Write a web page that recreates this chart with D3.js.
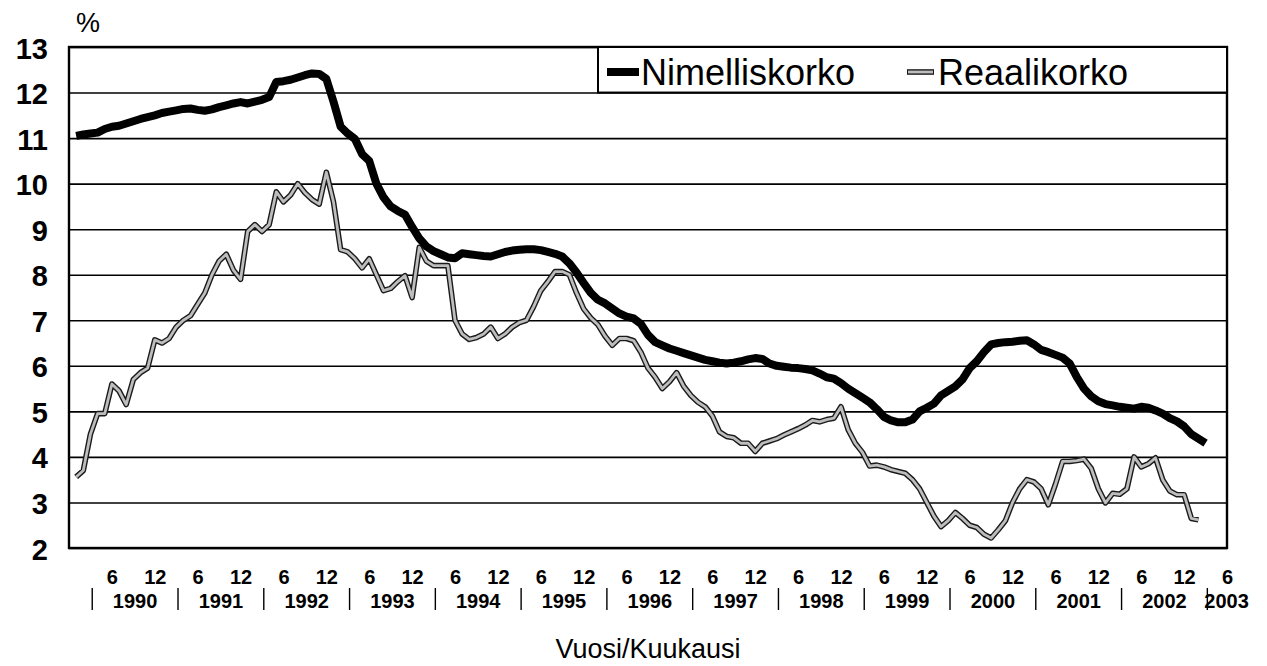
<!DOCTYPE html>
<html>
<head>
<meta charset="utf-8">
<script src="https://cdn.jsdelivr.net/npm/d3@7"></script>
<style>
  body { margin: 0; background: #fff; }
  text { font-family: "Liberation Sans", Arial, sans-serif; fill: #000; }
</style>
</head>
<body>
<div id="chart"></div>
<script>
// Korot 1990-2003, kuukausittain (tammikuu 1990 alkaen)
const startYear = 1990;

const nimelliskorko = [
  11.05, 11.08, 11.10, 11.12, 11.20, 11.25, 11.27, 11.32, 11.37, 11.42, 11.46, 11.50,
  11.55, 11.58, 11.61, 11.64, 11.65, 11.62, 11.60, 11.63, 11.68, 11.72, 11.76, 11.79,
  11.76, 11.80, 11.84, 11.90, 12.23, 12.25, 12.28, 12.33, 12.38, 12.42, 12.41, 12.30,
  11.80, 11.25, 11.10, 10.98, 10.65, 10.50, 10.00, 9.70, 9.50, 9.40, 9.32, 9.05,
  8.80, 8.62, 8.52, 8.45, 8.38, 8.36, 8.47, 8.45, 8.43, 8.41, 8.40, 8.45,
  8.50, 8.53, 8.55, 8.56, 8.56, 8.54, 8.50, 8.46, 8.40, 8.25, 8.05, 7.82,
  7.60, 7.45, 7.37, 7.26, 7.15, 7.08, 7.04, 6.92, 6.68, 6.52, 6.45, 6.38,
  6.33, 6.28, 6.23, 6.18, 6.13, 6.10, 6.07, 6.05, 6.07, 6.10, 6.14, 6.17,
  6.15, 6.05, 6.00, 5.98, 5.96, 5.95, 5.93, 5.90, 5.83, 5.75, 5.72, 5.62,
  5.50, 5.40, 5.30, 5.20, 5.05, 4.88, 4.80, 4.76, 4.76, 4.82, 5.00, 5.08,
  5.17, 5.35, 5.45, 5.55, 5.70, 5.95, 6.10, 6.30, 6.47, 6.50, 6.52, 6.53,
  6.55, 6.56, 6.47, 6.35, 6.30, 6.24, 6.18, 6.05, 5.75, 5.50, 5.33, 5.22,
  5.16, 5.13, 5.10, 5.08, 5.06, 5.10, 5.08, 5.02, 4.95, 4.85, 4.78, 4.67,
  4.50, 4.40, 4.30
];

const reaalikorko = [
  3.56, 3.70, 4.50, 4.95, 4.95, 5.60, 5.45, 5.15, 5.70, 5.85, 5.95, 6.57,
  6.50, 6.60, 6.85, 7.00, 7.10, 7.35, 7.60, 8.00, 8.30, 8.45, 8.10, 7.90,
  8.95, 9.10, 8.95, 9.10, 9.82, 9.60, 9.75, 10.00, 9.80, 9.65, 9.55, 10.25,
  9.60, 8.55, 8.50, 8.35, 8.15, 8.35, 8.00, 7.65, 7.70, 7.85, 7.98, 7.50,
  8.60, 8.30, 8.20, 8.20, 8.20, 7.00, 6.70, 6.58, 6.62, 6.70, 6.85, 6.60,
  6.70, 6.85, 6.95, 7.00, 7.30, 7.65, 7.85, 8.07, 8.07, 8.00, 7.60, 7.25,
  7.05, 6.90, 6.65, 6.45, 6.60, 6.60, 6.55, 6.30, 5.95, 5.75, 5.50, 5.65,
  5.85, 5.55, 5.35, 5.20, 5.10, 4.90, 4.55, 4.45, 4.42, 4.30, 4.30, 4.12,
  4.30, 4.35, 4.40, 4.48, 4.55, 4.62, 4.70, 4.80, 4.77, 4.82, 4.85, 5.10,
  4.60, 4.30, 4.10, 3.80, 3.82, 3.78, 3.72, 3.68, 3.64, 3.50, 3.30, 3.00,
  2.70, 2.47, 2.60, 2.78, 2.65, 2.50, 2.45, 2.30, 2.22, 2.40, 2.60, 3.00,
  3.30, 3.50, 3.45, 3.30, 2.95, 3.40, 3.90, 3.90, 3.92, 3.95, 3.75, 3.30,
  2.99, 3.20, 3.18, 3.30, 4.00, 3.78, 3.85, 3.98, 3.50, 3.25, 3.17, 3.17,
  2.65, 2.62
];

const yTicks = [2, 3, 4, 5, 6, 7, 8, 9, 10, 11, 12, 13];
const monthLabels = [6, 12];
const years = [1990, 1991, 1992, 1993, 1994, 1995, 1996, 1997, 1998, 1999, 2000, 2001, 2002, 2003];

const W = 1267, H = 666;
const margin = {top: 47, right: 40, bottom: 118, left: 69};
const width = W - margin.left - margin.right,
      height = H - margin.top - margin.bottom;

const svg = d3.select("#chart").append("svg")
    .attr("width", W)
    .attr("height", H);

const g = svg.append("g")
    .attr("transform", "translate(" + margin.left + "," + margin.top + ")");

// x: kuukausi-indeksi (0 = tammikuu 1990)
const x = d3.scaleLinear().domain([-1, 161]).range([0, width]);
const y = d3.scaleLinear().domain([2, 13]).range([height, 0]);

// vaakaviivat + y-akselin luvut
const yAxis = g.append("g")
    .call(d3.axisLeft(y).tickValues(yTicks).tickSize(-width).tickPadding(21).tickFormat(d3.format("d")));
yAxis.select(".domain").remove();
yAxis.selectAll(".tick line").attr("stroke", "#000").attr("stroke-width", 1.6);
yAxis.selectAll(".tick text")
    .attr("font-size", 29)
    .attr("font-weight", "bold")
    .attr("dy", "0.38em")
    .style("font-family", "'Liberation Sans', Arial, sans-serif");

// kehys
g.append("rect")
    .attr("width", width).attr("height", height)
    .attr("fill", "none").attr("stroke", "#000").attr("stroke-width", 2.4);

svg.append("text")
    .attr("x", 76).attr("y", 32)
    .attr("font-size", 27)
    .text("%");

// viivat
const line = d3.line()
    .x(function(d, i) { return x(i); })
    .y(function(d) { return y(d); })
    .curve(d3.curveLinear);

g.append("path")
    .datum(reaalikorko)
    .attr("fill", "none").attr("stroke", "#1a1a1a").attr("stroke-width", 5.6)
    .attr("stroke-linejoin", "round")
    .attr("d", line);
g.append("path")
    .datum(reaalikorko)
    .attr("fill", "none").attr("stroke", "#bdbdbd").attr("stroke-width", 2.8)
    .attr("stroke-linejoin", "round")
    .attr("d", line);

g.append("path")
    .datum(nimelliskorko)
    .attr("fill", "none").attr("stroke", "#000").attr("stroke-width", 8)
    .attr("stroke-linejoin", "round")
    .attr("d", line);

// selite
const legendX = 598 - margin.left;
const legend = g.append("g");
legend.append("rect")
    .attr("x", legendX).attr("y", 0)
    .attr("width", width - legendX).attr("height", y(12))
    .attr("fill", "#fff").attr("stroke", "#000").attr("stroke-width", 2);
legend.append("line")
    .attr("x1", 607 - margin.left).attr("x2", 639 - margin.left)
    .attr("y1", 25).attr("y2", 25)
    .attr("stroke", "#000").attr("stroke-width", 8);
legend.append("text")
    .attr("x", 641 - margin.left).attr("y", 38)
    .attr("font-size", 36)
    .text("Nimelliskorko");
legend.append("line")
    .attr("x1", 907 - margin.left).attr("x2", 934 - margin.left)
    .attr("y1", 25).attr("y2", 25)
    .attr("stroke", "#1a1a1a").attr("stroke-width", 5.6);
legend.append("line")
    .attr("x1", 908 - margin.left).attr("x2", 933 - margin.left)
    .attr("y1", 25).attr("y2", 25)
    .attr("stroke", "#bdbdbd").attr("stroke-width", 2.8);
legend.append("text")
    .attr("x", 938 - margin.left).attr("y", 38)
    .attr("font-size", 36)
    .text("Reaalikorko");

// x-akseli: kuukaudet 6 ja 12
const monthIdx = [];
years.forEach(function(yr) {
  monthLabels.forEach(function(m) {
    const idx = (yr - startYear) * 12 + m - 1;
    if (x(idx) <= width + 2) monthIdx.push(idx);
  });
});
const xAxis = g.append("g")
    .attr("transform", "translate(0," + height + ")")
    .call(d3.axisBottom(x).tickValues(monthIdx).tickSize(0).tickPadding(22)
      .tickFormat(function(d) { return String(d % 12 + 1); }));
xAxis.select(".domain").remove();
xAxis.selectAll(".tick text")
    .attr("font-size", 20)
    .attr("font-weight", "bold")
    .style("font-family", "'Liberation Sans', Arial, sans-serif");

// vuodet ja erottimet
const yearRow = g.append("g").attr("transform", "translate(0," + (height + 60) + ")");
years.forEach(function(yr, k) {
  const sep = (yr - startYear) * 12 + 2.25;
  yearRow.append("line")
    .attr("x1", x(sep)).attr("x2", x(sep))
    .attr("y1", -20).attr("y2", 2)
    .attr("stroke", "#000").attr("stroke-width", 1.4);
  const last = k === years.length - 1;
  yearRow.append("text")
    .attr("x", last ? x(sep) - 3 : x(sep + 6))
    .attr("y", 0)
    .attr("text-anchor", last ? "start" : "middle")
    .attr("font-size", 20)
    .attr("font-weight", "bold")
    .text(yr);
});

svg.append("text")
    .attr("x", 648).attr("y", 658)
    .attr("text-anchor", "middle")
    .attr("font-size", 27)
    .text("Vuosi/Kuukausi");
</script>
</body>
</html>
